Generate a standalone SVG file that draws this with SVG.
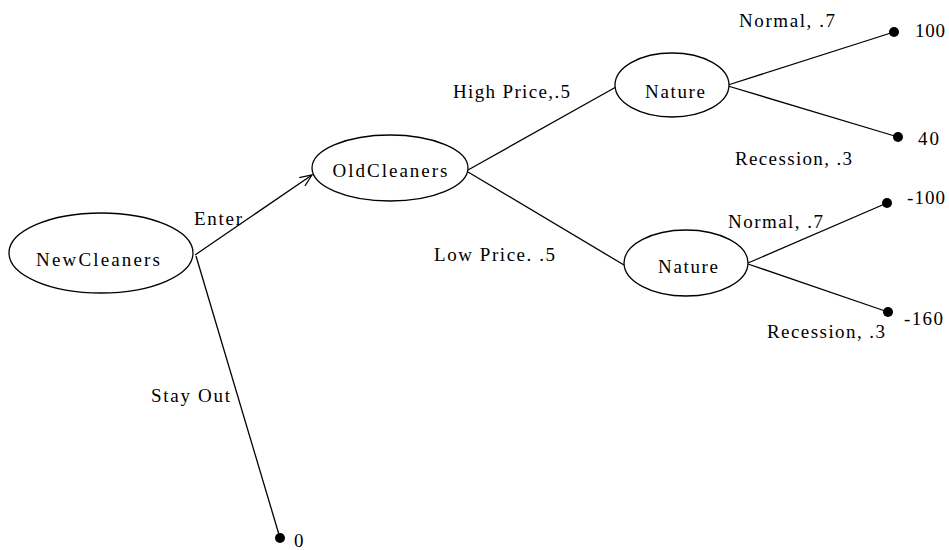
<svg xmlns="http://www.w3.org/2000/svg" width="949" height="550" viewBox="0 0 949 550">
<defs>
<style>
.node{fill:#fff;stroke:#000;stroke-width:1.3}
.t{font-family:'Liberation Serif','DejaVu Serif',serif;font-size:19px;fill:#000}
.c{stroke:#000;stroke-width:1.3;fill:none}
.dot{fill:#000}
</style>
<marker id="arr" markerWidth="14" markerHeight="12" refX="13" refY="6" orient="auto" markerUnits="userSpaceOnUse">
<path d="M1,1 L13,6 L1,11" fill="none" stroke="#000" stroke-width="1.2"/>
</marker>
</defs>
<rect width="949" height="550" fill="#fff"/>
<g id="connectors">
<line class="c" x1="195" y1="255" x2="312" y2="175" marker-end="url(#arr)"/>
<line class="c" x1="196" y1="256" x2="280" y2="538"/>
<line class="c" x1="468" y1="170" x2="616" y2="87"/>
<line class="c" x1="468" y1="172" x2="624" y2="265"/>
<line class="c" x1="728" y1="85" x2="894" y2="32"/>
<line class="c" x1="728" y1="86" x2="898" y2="137"/>
<line class="c" x1="748" y1="263" x2="887" y2="203"/>
<line class="c" x1="748" y1="264" x2="888" y2="312"/>
<text class="t" x="194" y="225" textLength="48" lengthAdjust="spacing">Enter</text>
<text class="t" x="151" y="402" textLength="79" lengthAdjust="spacing">Stay Out</text>
<text class="t" x="453" y="98" textLength="117" lengthAdjust="spacing">High Price,.5</text>
<text class="t" x="434" y="261" textLength="121" lengthAdjust="spacing">Low Price. .5</text>
<text class="t" x="739" y="27" textLength="96" lengthAdjust="spacing">Normal, .7</text>
<text class="t" x="735" y="165" textLength="117" lengthAdjust="spacing">Recession, .3</text>
<text class="t" x="728" y="228" textLength="95" lengthAdjust="spacing">Normal, .7</text>
<text class="t" x="767" y="338" textLength="118" lengthAdjust="spacing">Recession, .3</text>
</g>
<g id="NewCleaners">
<ellipse class="node" cx="101" cy="253" rx="92" ry="40"/>
<text class="t" x="98" y="266" text-anchor="middle" textLength="124" lengthAdjust="spacing">NewCleaners</text>
</g>
<g id="OldCleaners">
<ellipse class="node" cx="390" cy="168" rx="78" ry="33"/>
<text class="t" x="390" y="177" text-anchor="middle" textLength="115" lengthAdjust="spacing">OldCleaners</text>
</g>
<g id="Nature1">
<ellipse class="node" cx="672" cy="85" rx="57" ry="32"/>
<text class="t" x="675" y="98" text-anchor="middle" textLength="60" lengthAdjust="spacing">Nature</text>
</g>
<g id="Nature2">
<ellipse class="node" cx="686" cy="263" rx="62" ry="33"/>
<text class="t" x="688" y="273" text-anchor="middle" textLength="60" lengthAdjust="spacing">Nature</text>
</g>
<g id="T100">
<circle class="dot" cx="894" cy="32" r="5"/>
<text class="t" x="915" y="37" textLength="30" lengthAdjust="spacing">100</text>
</g>
<g id="T40">
<circle class="dot" cx="898" cy="137" r="5"/>
<text class="t" x="918" y="145" textLength="21" lengthAdjust="spacing">40</text>
</g>
<g id="Tm100">
<circle class="dot" cx="887" cy="203" r="5"/>
<text class="t" x="907" y="204" textLength="38" lengthAdjust="spacing">-100</text>
</g>
<g id="Tm160">
<circle class="dot" cx="888" cy="312" r="5"/>
<text class="t" x="904" y="325" textLength="39" lengthAdjust="spacing">-160</text>
</g>
<g id="T0">
<circle class="dot" cx="280" cy="538" r="5"/>
<text class="t" x="294" y="547">0</text>
</g>
</svg>
